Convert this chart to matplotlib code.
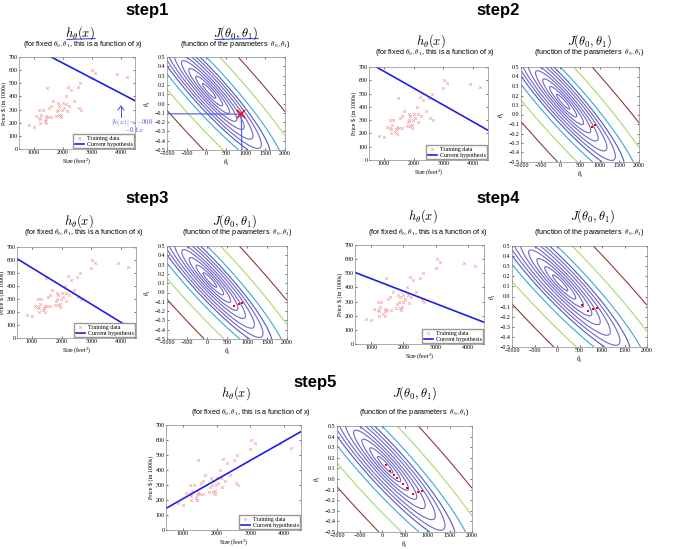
import numpy as np
import matplotlib.pyplot as plt

plt.rcParams['mathtext.fontset'] = 'cm'

W, H = 700, 549

# training data: house size (feet^2) and price (in 1000s)
size_ft2 = [2104, 1600, 2400, 1416, 3000, 1985, 1534, 1427, 1380, 1494, 1940, 2000,
            1890, 4478, 1268, 2300, 1320, 1236, 2609, 3031, 1767, 1888, 1604, 1962,
            3890, 1100, 1458, 2526, 2200, 2637, 1839, 1000, 2040, 3137, 1811, 1437,
            1239, 2132, 4215, 2162, 1664, 2238, 2567, 1200, 852, 1852, 1203]
price_k = [399.9, 329.9, 369.0, 232.0, 539.9, 299.9, 314.9, 199.0, 212.0, 242.5,
           240.0, 347.0, 330.0, 699.9, 259.9, 449.9, 299.9, 199.9, 500.0, 599.0,
           252.9, 255.0, 242.9, 259.9, 573.9, 249.9, 464.5, 469.0, 475.0, 299.9,
           349.9, 169.9, 314.9, 579.9, 285.9, 249.9, 229.9, 345.0, 549.0, 287.0,
           368.5, 329.9, 314.0, 299.0, 179.9, 299.9, 239.5]

# gradient descent steps (theta0, theta1)
theta0_path = [885, 795, 680, 550, 460, 335, 260, 170, 80]
theta1_path = [-0.115, -0.127, -0.140, -0.088, -0.047, 0.005, 0.040, 0.080, 0.128]

# how many steps are shown on each panel
step_names = ['step1', 'step2', 'step3', 'step4', 'step5']
step_counts = [1, 2, 3, 4, 9]

# contour levels of the cost J
cost_levels = [4e3, 10e3, 20e3, 35e3, 55e3, 85e3, 120e3, 165e3, 260e3, 540e3, 1.12e6]
level_colors = ['#6c66cc'] * 7 + ['#4e58c6', '#3aa8d8', '#a8d86c', '#8e3c3c']

# cost surface from the data
t0 = np.linspace(-1000, 2000, 301)
t1 = np.linspace(-0.5, 0.5, 301)
T0, T1 = np.meshgrid(t0, t1)
x = np.array(size_ft2)
y = np.array(price_k)
J = ((T0[..., None] + T1[..., None] * x - y) ** 2).mean(axis=-1) / 2

fig = plt.figure(figsize=(W / 100, H / 100), dpi=100)


def px_axes(l, t, r, b):
    return fig.add_axes([l / W, 1 - b / H, (r - l) / W, (b - t) / H])


def ftext(xp, yp, s, **kw):
    fig.text(xp / W, 1 - yp / H, s, ha='center', va='center', **kw)


def style(ax):
    ax.tick_params(labelsize=4.3, pad=1, length=1.5, width=0.4, direction='in',
                   top=True, right=True)
    for lab in ax.get_xticklabels() + ax.get_yticklabels():
        lab.set_family('Liberation Serif')
    for sp in ax.spines.values():
        sp.set_linewidth(0.5)
        sp.set_color('#8a8a8a')


def draw_house(ax, k):
    ax.plot(size_ft2, price_k, 'x', color='#f4a0a0', ms=2.0, mew=0.5, label='Training data')
    xs = np.array([500, 4500])
    ax.plot(xs, theta0_path[k - 1] + theta1_path[k - 1] * xs, color='#1f1fe6', lw=1.2,
            label='Current hypothesis')
    ax.set_xlim(500, 4500)
    ax.set_ylim(0, 700)
    ax.set_xticks([1000, 2000, 3000, 4000])
    ax.set_yticks(range(0, 701, 100))
    ax.set_xlabel('Size (feet$^2$)', fontsize=4.3, family='Liberation Serif', labelpad=1)
    ax.set_ylabel('Price $ (in 1000s)', fontsize=4.3, family='Liberation Serif', labelpad=1)
    ax.legend(loc='lower right', prop={'family': 'Liberation Serif', 'size': 4.3},
              handlelength=1.6, borderpad=0.2, labelspacing=0.1, handletextpad=0.4,
              borderaxespad=0.2, fancybox=False, edgecolor='#999999', framealpha=1)
    style(ax)


def draw_cost(ax, k):
    ax.contour(T0, T1, J, levels=cost_levels, colors=level_colors, linewidths=0.8)
    if k == 1:
        ax.plot([-1000, theta0_path[0]], [-0.11, theta1_path[0]], color='#4a5ae0', lw=0.8)
        ax.plot([theta0_path[0], 905], [theta1_path[0], -0.5], color='#4a5ae0', lw=0.8)
        ax.plot(theta0_path[:1], theta1_path[:1], 'x', color='red', ms=6, mew=1.1)
    else:
        ax.plot(theta0_path[:k], theta1_path[:k], linestyle='none', marker='s',
                color='red', ms=1.5, mew=0)
    ax.set_xlim(-1000, 2000)
    ax.set_ylim(-0.5, 0.5)
    ax.set_xticks(range(-1000, 2001, 500))
    ax.set_yticks(np.round(np.arange(-0.5, 0.51, 0.1), 1))
    ax.set_xlabel(r'$\theta_0$', fontsize=4.5, labelpad=1)
    ax.set_ylabel(r'$\theta_1$', fontsize=4.5, labelpad=1)
    style(ax)


# pixel boxes: house plot, cost plot
house_boxes = [(19, 57, 135, 149), (369, 67, 488, 160), (17, 247, 136, 338),
               (355, 245, 484, 344), (166, 425, 301, 530)]
cost_boxes = [(167, 57, 285, 150), (521, 67, 639, 162), (167, 246, 287, 339),
              (512, 246, 647, 347), (337, 426, 472, 532)]
# text positions: step title, left title, right title, title row, subtitle row
step_pos = [(147, 10), (498, 11), (147, 198), (498, 198), (315, 382)]
head_x = [(80, 236), (431, 590), (79, 235), (423, 593), (236, 415)]
sub_x = [(83, 235), (435, 589), (84, 237), (428, 589), (251, 414)]
head_y = [(33, 45), (41, 53), (221, 233), (216, 232), (393, 412)]

sub_left = r'(for fixed $\theta_0, \theta_1$, this is a function of x)'
sub_right = r'(function of the parameters  $\theta_0, \theta_1$)'

for i in range(5):
    k = step_counts[i]
    draw_house(px_axes(*house_boxes[i]), k)
    draw_cost(px_axes(*cost_boxes[i]), k)
    ftext(*step_pos[i], step_names[i], fontsize=12, fontweight='bold', family='Liberation Sans')
    ftext(head_x[i][0], head_y[i][0], r'$h_\theta(x)$', fontsize=9)
    ftext(head_x[i][1], head_y[i][0], r'$J(\theta_0, \theta_1)$', fontsize=9)
    ftext(sub_x[i][0], head_y[i][1], sub_left, fontsize=5.2, family='Liberation Sans')
    ftext(sub_x[i][1], head_y[i][1], sub_right, fontsize=5.2, family='Liberation Sans')

# handwritten notes on step1
pen = '#3c4ee0'
fig.add_artist(plt.Line2D([67 / W, 95 / W], [1 - 39.5 / H, 1 - 38.5 / H], color=pen, lw=0.8))
fig.add_artist(plt.Line2D([215 / W, 258 / W], [1 - 39.5 / H, 1 - 38.5 / H], color=pen, lw=0.8))
fig.add_artist(plt.Line2D([121 / W, 121 / W], [1 - 117 / H, 1 - 106 / H], color=pen, lw=0.7))
fig.add_artist(plt.Line2D([118 / W, 121 / W, 124 / W], [1 - 110 / H, 1 - 106 / H, 1 - 110 / H],
                          color=pen, lw=0.7))
fig.text(111 / W, 1 - 122 / H, r'$|h(x)| = -900$', color=pen, fontsize=5,
         ha='left', va='center')
fig.text(124 / W, 1 - 129 / H, r'$-0.1x$', color=pen, fontsize=5, ha='left', va='center')

fig.savefig('out.png', dpi=100, facecolor='white')
